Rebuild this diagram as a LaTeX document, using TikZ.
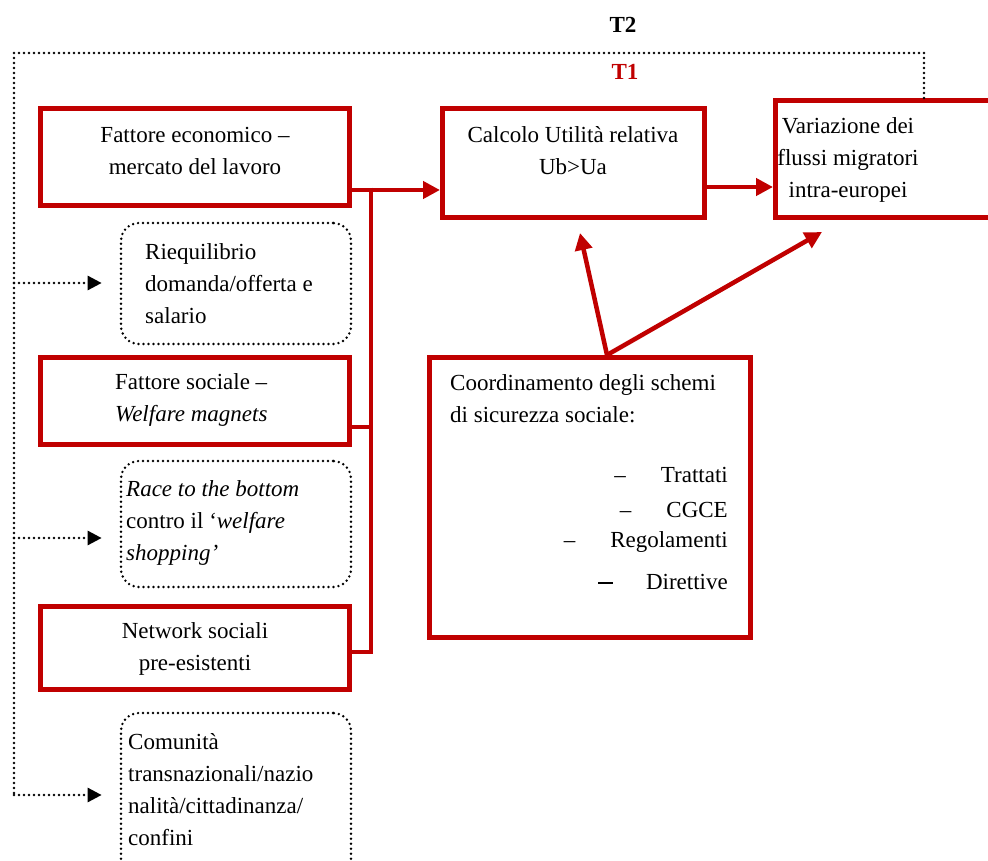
\documentclass[tikz,border=0pt]{standalone}
\usepackage{fontspec}
\setmainfont{Liberation Serif}
\usetikzlibrary{arrows.meta}
\definecolor{dred}{HTML}{C00000}
\begin{document}
\begin{tikzpicture}[x=1pt,y=-1pt,
  redbox/.style={draw=dred, line width=5pt, inner sep=0pt},
  dotbox/.style={draw=black, line width=2.7pt, dash pattern=on 0pt off 5pt, line cap=round, rounded corners=18pt, inner sep=0pt},
  txt/.style={font=\fontsize{23}{32}\selectfont, inner sep=0pt},
  redline/.style={draw=dred, line width=4.5pt},
  redarrow/.style={draw=dred, line width=4.5pt, -{Triangle[length=17pt,width=17pt]}},
  dotline/.style={draw=black, line width=2.7pt, dash pattern=on 0pt off 5pt, line cap=round},
  dotarrow/.style={dotline, -{Triangle[length=14pt,width=14pt,line cap=butt]}, shorten >=18pt}
]
\useasboundingbox (0,0) rectangle (988,861);

% boxes
\node[redbox, minimum width=309pt, minimum height=97pt] (econ) at (195,157) {};
\node[redbox, minimum width=262pt, minimum height=109pt] (calc) at (573.5,163) {};
\node[redbox, minimum width=222pt, minimum height=117pt] (vari) at (886.5,159) {};
\node[redbox, minimum width=309pt, minimum height=87pt] (soc) at (195,401) {};
\node[redbox, minimum width=309pt, minimum height=83pt] (net) at (195,648) {};
\node[redbox, minimum width=321pt, minimum height=280pt] (coord) at (590,497.5) {};
\node[dotbox, minimum width=230pt, minimum height=121pt] (rieq) at (236,283.5) {};
\node[dotbox, minimum width=230pt, minimum height=126pt] (race) at (236,524) {};
\node[dotbox, minimum width=230pt, minimum height=171pt] (com) at (236,798.5) {};

% texts
\node[txt, font=\fontsize{23}{32}\selectfont\bfseries] (t2) at (623,25) {T2};
\node[txt, font=\fontsize{23}{32}\selectfont\bfseries, text=dred] (t1) at (625,72) {T1};
\node[txt, align=center] (econT) at (195,151) {Fattore economico –\\mercato del lavoro};
\node[txt, align=center] (calcT) at (573,151) {Calcolo Utilità relativa\\Ub>Ua};
\node[txt, align=center] (variT) at (848,160) {Variazione dei\\flussi migratori\\intra-europei};
\node[txt, align=left, anchor=west] (rieqT) at (145,284) {Riequilibrio\\domanda/offerta e\\salario};
\node[txt, align=left, anchor=west] (socT) at (115,400) {Fattore sociale –\\\textit{Welfare magnets}};
\node[txt, align=left, anchor=west] (raceT) at (126,523) {\textit{Race to the bottom}\\contro il ‘\textit{welfare}\\\textit{shopping’}};
\node[txt, align=center] (netT) at (195,649) {Network sociali\\pre-esistenti};
\node[txt, align=left, anchor=west] (comT) at (128,790) {Comunità\\transnazionali/nazio\\nalità/cittadinanza/\\confini};
\node[txt, align=left, anchor=west] (coordT) at (450,399) {Coordinamento degli schemi\\di sicurezza sociale:};
\node[txt, anchor=east] (it1) at (728,475) {–\hspace{35pt}Trattati};
\node[txt, anchor=east] (it2) at (728,510) {–\hspace{35pt}CGCE};
\node[txt, anchor=east] (it3) at (728,542) {–\hspace{35pt}Regolamenti};
\node[txt, anchor=east] (it4) at (728,582) {\rule[6pt]{15pt}{1.3pt}\hspace{33pt}Direttive};

% red connectors
\coordinate (j1) at (371,190);
\coordinate (j2) at (371,427);
\coordinate (j3) at (371,652);
\coordinate (k1) at (740,187);
\coordinate (c0) at (607,355);
\coordinate (a1) at (580,233);
\coordinate (a2) at (822,232);
\draw[redarrow] (econ.east |- j1) -- (calc.west |- j1);
\draw[redline] ([yshift=2.25pt]j1) -- ([yshift=-2.25pt]j3);
\draw[redline] (soc.east |- j2) -- (j2);
\draw[redline] (net.east |- j3) -- ([xshift=2.25pt]j3);
\draw[redarrow] (calc.east |- k1) -- (vari.west |- k1);
\draw[redarrow] (c0) -- (a1);
\draw[redarrow] (c0) -- (a2);

% dotted feedback loop
\coordinate (tr) at (924,53);
\coordinate (tl) at (14,53);
\coordinate (d1) at (14,283);
\coordinate (d2) at (14,538);
\coordinate (d3) at (14,795);
\draw[dotline] (vari.north -| tr) -- (tr) -- (tl) -- (d3);
\draw[dotarrow] (d1) -- (rieq.west |- d1);
\draw[dotarrow] (d2) -- (race.west |- d2);
\draw[dotarrow] (d3) -- (com.west |- d3);
\end{tikzpicture}
\end{document}
